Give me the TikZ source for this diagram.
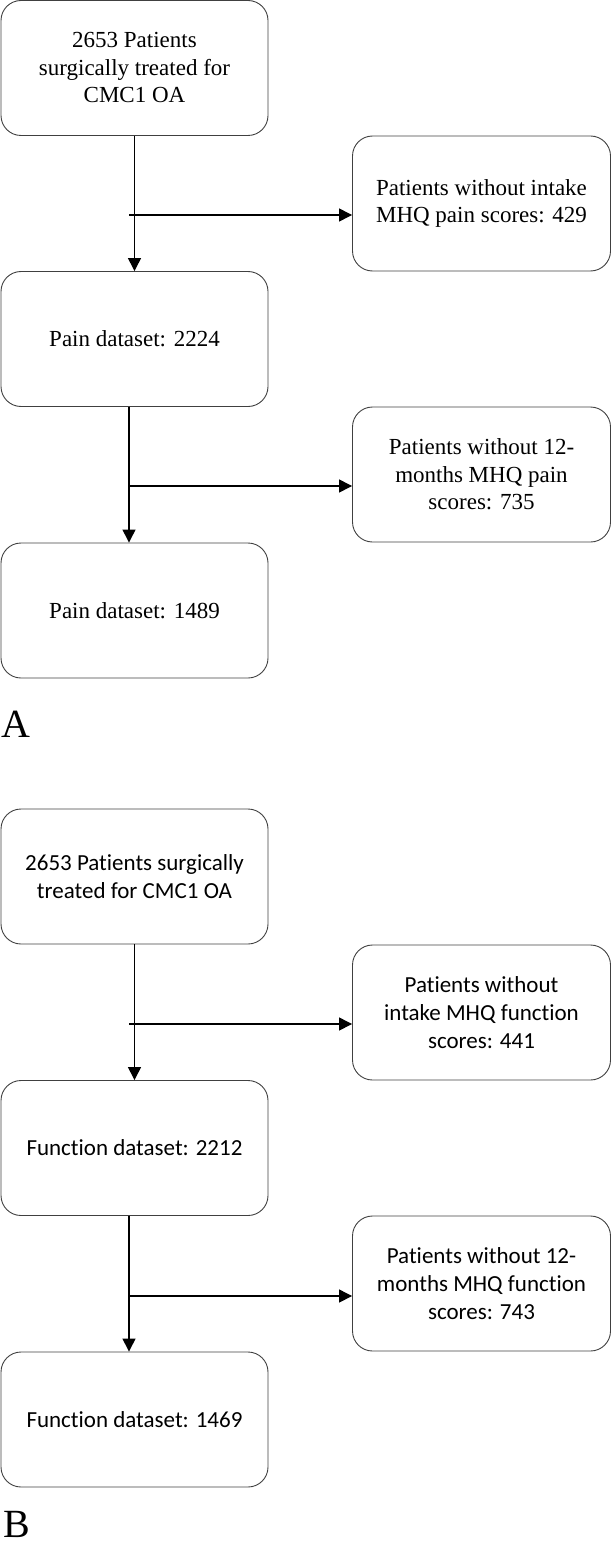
\documentclass[tikz,border=0pt]{standalone}
\usepackage{fontspec}
\setmainfont{Liberation Serif}
\newfontfamily\calfont[Ligatures=NoCommon]{Carlito}
\usetikzlibrary{arrows.meta}
\tikzset{
  boxA/.style={draw=black!75, line width=0.9pt, rounded corners=20pt, inner sep=0pt, align=center,
    font=\fontsize{23}{27.5}\selectfont},
  boxB/.style={draw=black!75, line width=0.9pt, rounded corners=20pt, inner sep=0pt, align=center,
    font=\calfont\fontsize{23}{28}\selectfont},
  leftbox/.style={minimum width=267pt, minimum height=135pt},
  rightbox/.style={minimum width=258pt, minimum height=135pt},
  flow/.style={draw=black, line width=1.3pt, -{Triangle[width=13pt,length=13pt]}},
  panel/.style={font=\fontsize{40}{44}\selectfont, inner sep=0pt, anchor=base west}
}
\begin{document}
\begin{tikzpicture}[x=1pt,y=-1pt]
\useasboundingbox (0,0) rectangle (612,1546);
% Panel A
\node[boxA,leftbox] (a1) at (134.5,68) {2653 Patients\\surgically treated for\\CMC1 OA};
\node[boxA,rightbox] (ar1) at (481.5,203.5) {Patients without intake\\MHQ pain scores: 429};
\node[boxA,leftbox] (a2) at (134.5,339) {Pain dataset: 2224};
\node[boxA,rightbox] (ar2) at (481.5,474.5) {Patients without 12-\\months MHQ pain\\scores: 735};
\node[boxA,leftbox] (a3) at (134.5,610.5) {Pain dataset: 1489};
\node[panel] (la) at (1,737) {A};
\coordinate (ja1) at (129,215);
\coordinate (ja2) at (129,486);
\draw[flow] (a1.south) -- (a2.north);
\draw[flow] (ja1) -- (ja1 -| ar1.west);
\draw[flow] ([xshift=-5.5pt]a2.south) -- ([xshift=-5.5pt]a3.north);
\draw[flow] (ja2) -- (ja2 -| ar2.west);
% Panel B
\node[boxB,leftbox] (b1) at (134.5,876.5) {2653 Patients surgically\\treated for CMC1 OA};
\node[boxB,rightbox] (br1) at (481.5,1012.5) {Patients without\\intake MHQ function\\scores: 441};
\node[boxB,leftbox] (b2) at (134.5,1148) {Function dataset: 2212};
\node[boxB,rightbox] (br2) at (481.5,1283.5) {Patients without 12-\\months MHQ function\\scores: 743};
\node[boxB,leftbox] (b3) at (134.5,1419.5) {Function dataset: 1469};
\node[panel] (lb) at (3,1537) {B};
\coordinate (jb1) at (129,1024);
\coordinate (jb2) at (129,1296);
\draw[flow] (b1.south) -- (b2.north);
\draw[flow] (jb1) -- (jb1 -| br1.west);
\draw[flow] ([xshift=-5.5pt]b2.south) -- ([xshift=-5.5pt]b3.north);
\draw[flow] (jb2) -- (jb2 -| br2.west);
\end{tikzpicture}
\end{document}
